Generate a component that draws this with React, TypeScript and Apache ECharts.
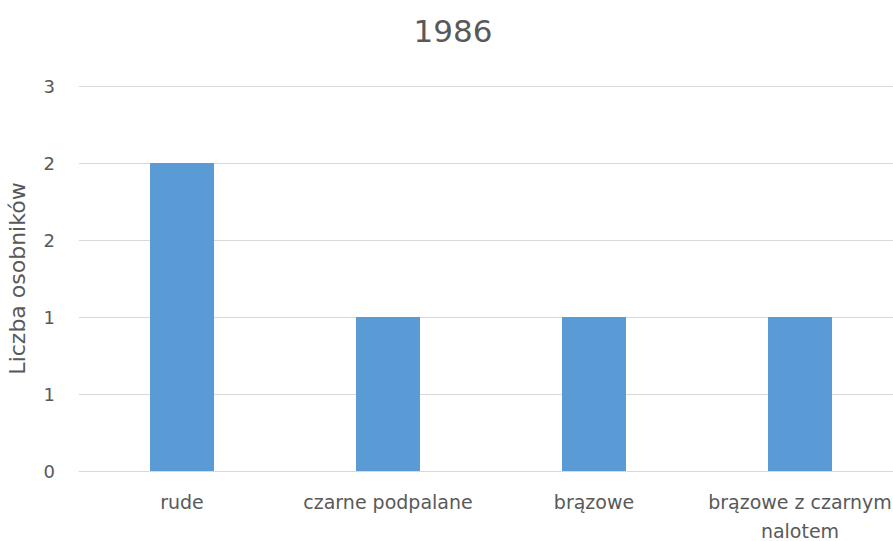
import React, { useEffect, useRef } from "react";
import * as echarts from "echarts";

const title = "1986";
const yAxisName = "Liczba osobników";
const categories = ["rude", "czarne podpalane", "brązowe", "brązowe z czarnym\nnalotem"];
const values = [2, 1, 1, 1];

export default function App() {
  const ref = useRef<HTMLDivElement>(null);
  useEffect(() => {
    const chart = echarts.init(ref.current!, null, { renderer: "svg" });
    chart.setOption({
      animation: false,
      backgroundColor: "#ffffff",
      textStyle: { fontFamily: "DejaVu Sans" },
      title: {
        text: title,
        left: 448,
        top: 10,
        textAlign: "center",
        textStyle: { fontFamily: "DejaVu Sans", fontSize: 31, fontWeight: "normal", color: "#595959" },
      },
      grid: { left: 79, top: 86, width: 824, height: 385, containLabel: false, outerBoundsMode: "none" },
      xAxis: {
        type: "category",
        data: categories,
        axisLine: { lineStyle: { color: "#d9d9d9", width: 1 } },
        axisTick: { show: false },
        axisLabel: { color: "#595959", fontSize: 19, fontFamily: "DejaVu Sans", margin: 16, lineHeight: 29, interval: 0 },
      },
      yAxis: {
        type: "value",
        min: 0,
        max: 2.5,
        interval: 0.5,
        name: yAxisName,
        nameLocation: "middle",
        nameGap: 51,
        nameTextStyle: { color: "#595959", fontSize: 22, fontFamily: "DejaVu Sans" },
        axisLine: { show: false },
        axisTick: { show: false },
        axisLabel: {
          color: "#595959",
          fontSize: 18,
          fontFamily: "DejaVu Sans",
          margin: 24,
          formatter: (v: number) => String(Math.round(v)),
        },
        splitLine: { lineStyle: { color: "#d9d9d9", width: 1 } },
      },
      series: [
        {
          type: "bar",
          data: values,
          barWidth: 64,
          itemStyle: { color: "#5b9bd5" },
        },
      ],
    });
    return () => chart.dispose();
  }, []);
  return (
    <div style={{ position: "absolute", left: 0, top: 0, width: 893, height: 541, overflow: "hidden" }}>
      <div ref={ref} style={{ width: 893, height: 541 }} />
    </div>
  );
}
